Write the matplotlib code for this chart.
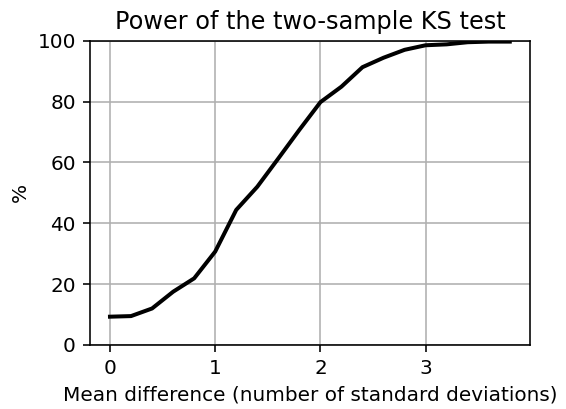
import matplotlib
matplotlib.use("Agg")
import matplotlib.pyplot as plt

# mean difference in standard deviations, and KS test power (%)
mean_diff = [0.0, 0.2, 0.4, 0.6, 0.8, 1.0, 1.2, 1.4, 1.6, 1.8,
             2.0, 2.2, 2.4, 2.6, 2.8, 3.0, 3.2, 3.4, 3.6, 3.8]
power = [9.3, 9.5, 12.0, 17.5, 21.9, 30.7, 44.4, 52.0, 61.3, 70.7,
         79.8, 84.9, 91.3, 94.4, 97.0, 98.5, 98.8, 99.5, 99.7, 99.7]

fig = plt.figure(figsize=(566 / 144, 409 / 144), dpi=144)
ax = fig.add_axes([0.159, 0.1565, 0.777, 0.744])

ax.plot(mean_diff, power, color="black", linewidth=2)
ax.set_ylim(0, 100)
ax.set_xticks([0, 1, 2, 3])
ax.grid(True)

ax.set_title("Power of the two-sample KS test")
ax.set_xlabel("Mean difference (number of standard deviations)")
ax.set_ylabel("%")

fig.savefig("out.png", dpi=144)
